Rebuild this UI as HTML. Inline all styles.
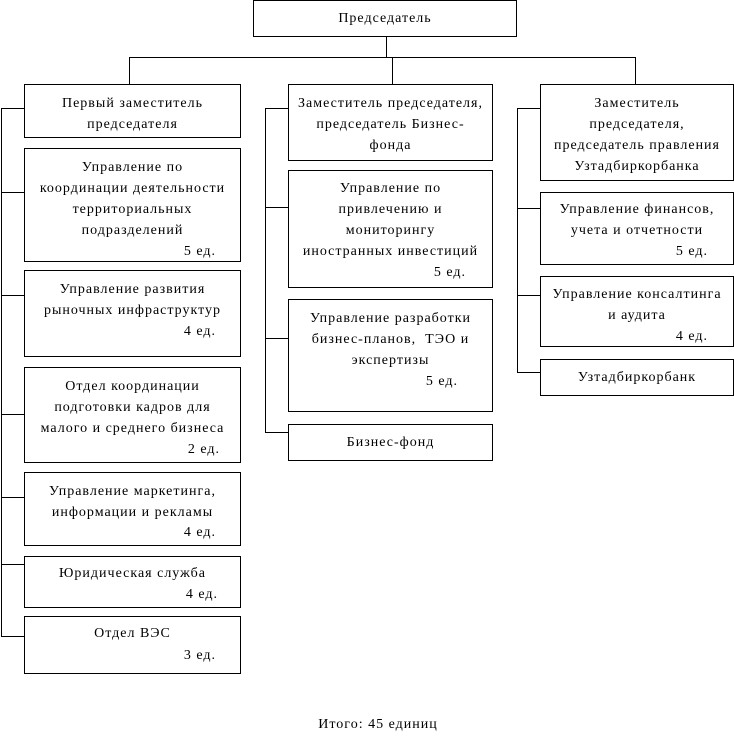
<!DOCTYPE html>
<html><head><meta charset="utf-8"><style>
body{margin:0;width:734px;height:745px;background:#fff;position:relative;overflow:hidden;font-family:"Liberation Serif","Noto Serif CJK SC",serif;font-size:14px;letter-spacing:1px;color:#000}
.b{position:absolute;border:1px solid #000;box-sizing:border-box;padding-top:8px;line-height:21px;text-align:center;white-space:nowrap}
.b .r{text-align:right;padding-right:24px}
.c{display:flex;align-items:center;justify-content:center;padding-top:0}
.l{position:absolute;background:#000}
</style></head><body>
<div class="b c" style="left:253px;top:0;width:264px;height:37px">Председатель</div>
<div class="l" style="left:386px;top:36px;width:1px;height:21px"></div>
<div class="l" style="left:129px;top:57px;width:507px;height:1px"></div>
<div class="l" style="left:129px;top:57px;width:1px;height:27px"></div>
<div class="l" style="left:392px;top:57px;width:1px;height:27px"></div>
<div class="l" style="left:635px;top:57px;width:1px;height:27px"></div>

<div class="l" style="left:1px;top:108px;width:1px;height:529px"></div>
<div class="l" style="left:1px;top:108px;width:23px;height:1px"></div>
<div class="l" style="left:1px;top:192px;width:23px;height:1px"></div>
<div class="l" style="left:1px;top:295px;width:23px;height:1px"></div>
<div class="l" style="left:1px;top:414px;width:23px;height:1px"></div>
<div class="l" style="left:1px;top:497px;width:23px;height:1px"></div>
<div class="l" style="left:1px;top:564px;width:23px;height:1px"></div>
<div class="l" style="left:1px;top:636px;width:23px;height:1px"></div>

<div class="b" style="left:24px;top:84px;width:217px;height:54px"><div>Первый заместитель</div><div>председателя</div></div>
<div class="b" style="left:24px;top:148px;width:217px;height:114px"><div>Управление по</div><div>координации деятельности</div><div>территориальных</div><div>подразделений</div><div class="r">5 ед.</div></div>
<div class="b" style="left:24px;top:270px;width:217px;height:87px"><div>Управление развития</div><div>рыночных инфраструктур</div><div class="r">4 ед.</div></div>
<div class="b" style="left:24px;top:367px;width:217px;height:96px"><div>Отдел координации</div><div>подготовки кадров для</div><div>малого и среднего бизнеса</div><div class="r" style="padding-right:20px">2 ед.</div></div>
<div class="b" style="left:24px;top:472px;width:217px;height:74px;padding-top:9px;line-height:20.5px"><div>Управление маркетинга,</div><div>информации и рекламы</div><div class="r">4 ед.</div></div>
<div class="b" style="left:24px;top:556px;width:217px;height:52px;padding-top:6px"><div>Юридическая служба</div><div class="r" style="padding-right:22px">4 ед.</div></div>
<div class="b" style="left:24px;top:616px;width:217px;height:58px;padding-top:6px;line-height:22px"><div>Отдел ВЭС</div><div class="r">3 ед.</div></div>

<div class="l" style="left:265px;top:108px;width:1px;height:325px"></div>
<div class="l" style="left:265px;top:108px;width:23px;height:1px"></div>
<div class="l" style="left:265px;top:207px;width:23px;height:1px"></div>
<div class="l" style="left:265px;top:338px;width:23px;height:1px"></div>
<div class="l" style="left:265px;top:432px;width:23px;height:1px"></div>

<div class="b" style="left:288px;top:84px;width:205px;height:77px"><div>Заместитель председателя,</div><div>председатель Бизнес-</div><div>фонда</div></div>
<div class="b" style="left:288px;top:170px;width:205px;height:118px;padding-top:7px"><div>Управление по</div><div>привлечению и</div><div>мониторингу</div><div>иностранных инвестиций</div><div class="r" style="padding-right:26px">5 ед.</div></div>
<div class="b" style="left:288px;top:299px;width:205px;height:113px"><div>Управление разработки</div><div>бизнес-планов,&nbsp; ТЭО и</div><div>экспертизы</div><div class="r" style="padding-right:34px">5 ед.</div></div>
<div class="b c" style="left:288px;top:424px;width:205px;height:37px">Бизнес-фонд</div>

<div class="l" style="left:517px;top:108px;width:1px;height:265px"></div>
<div class="l" style="left:517px;top:108px;width:23px;height:1px"></div>
<div class="l" style="left:517px;top:208px;width:23px;height:1px"></div>
<div class="l" style="left:517px;top:295px;width:23px;height:1px"></div>
<div class="l" style="left:517px;top:372px;width:23px;height:1px"></div>

<div class="b" style="left:540px;top:84px;width:194px;height:97px"><div>Заместитель</div><div>председателя,</div><div>председатель правления</div><div>Узтадбиркорбанка</div></div>
<div class="b" style="left:540px;top:192px;width:194px;height:73px;padding-top:6px"><div>Управление финансов,</div><div>учета и отчетности</div><div class="r" style="padding-right:25px">5 ед.</div></div>
<div class="b" style="left:540px;top:276px;width:194px;height:71px;padding-top:7px"><div>Управление консалтинга</div><div>и аудита</div><div class="r" style="padding-right:25px">4 ед.</div></div>
<div class="b c" style="left:540px;top:359px;width:194px;height:37px">Узтадбиркорбанк</div>

<div style="position:absolute;left:0;width:756px;top:717px;text-align:center">Итого: 45 единиц</div>
</body></html>
